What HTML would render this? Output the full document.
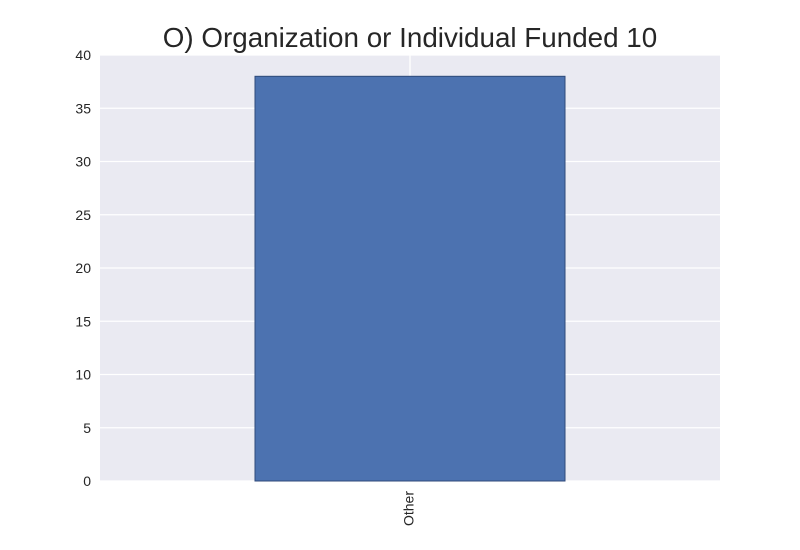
<!DOCTYPE html>
<html><head><meta charset="utf-8"><style>
body{margin:0;background:#fff;}
svg{display:block;font-family:"Liberation Sans",sans-serif;}
</style></head><body>
<svg id="chart" width="800" height="550">
<text x="410" y="47" text-anchor="middle" font-size="27.8" fill="#262626">O) Organization or Individual Funded 10</text>
<rect x="100" y="55" width="620" height="426" fill="#eaeaf2"/>
<g id="grid"></g><g id="bars"></g><g id="yticks"></g><g id="xticks"></g>
</svg>
<script>
const categories = ["Other"];
const values = [38];
const yTicks = [0,5,10,15,20,25,30,35,40];
const X0=100,X1=720,Y0=481,Y1=55,YMAX=40;
const ns="http://www.w3.org/2000/svg";
const y=v=>Y0-(v/YMAX)*(Y0-Y1);
const band=(X1-X0)/categories.length;
const xc=i=>X0+band*(i+0.5);
function mk(tag,attrs,parent,txt){const e=document.createElementNS(ns,tag);for(const k in attrs)e.setAttribute(k,attrs[k]);if(txt!=null)e.textContent=txt;document.getElementById(parent).appendChild(e);return e;}
yTicks.forEach(t=>{
 const l=mk('line',{x1:X0,x2:X1,y1:y(t),y2:y(t),stroke:'#fff','stroke-width':1.3},'grid');
 
 
 const tx=mk('text',{x:91,y:y(t)+5,'text-anchor':'end','font-size':14,fill:'#262626'},'yticks',t);
 
 
});
categories.forEach((c,i)=>{
 const g=mk('line',{x1:xc(i),x2:xc(i),y1:Y1,y2:Y0,stroke:'#fff','stroke-width':1.3},'grid');
 
 
 const w=band*0.5;
 const r=mk('rect',{x:xc(i)-w/2,y:y(values[i]),width:w,height:Y0-y(values[i]),fill:'#4c72b0',stroke:'#2f4a7a','stroke-width':1},'bars');
 
 
 const t=mk('text',{x:0,y:0,'text-anchor':'end','font-size':14,fill:'#262626',transform:`translate(${xc(i)+3.5},${Y0+10}) rotate(-90)`},'xticks',c);
 
 
});
</script>
</body></html>
